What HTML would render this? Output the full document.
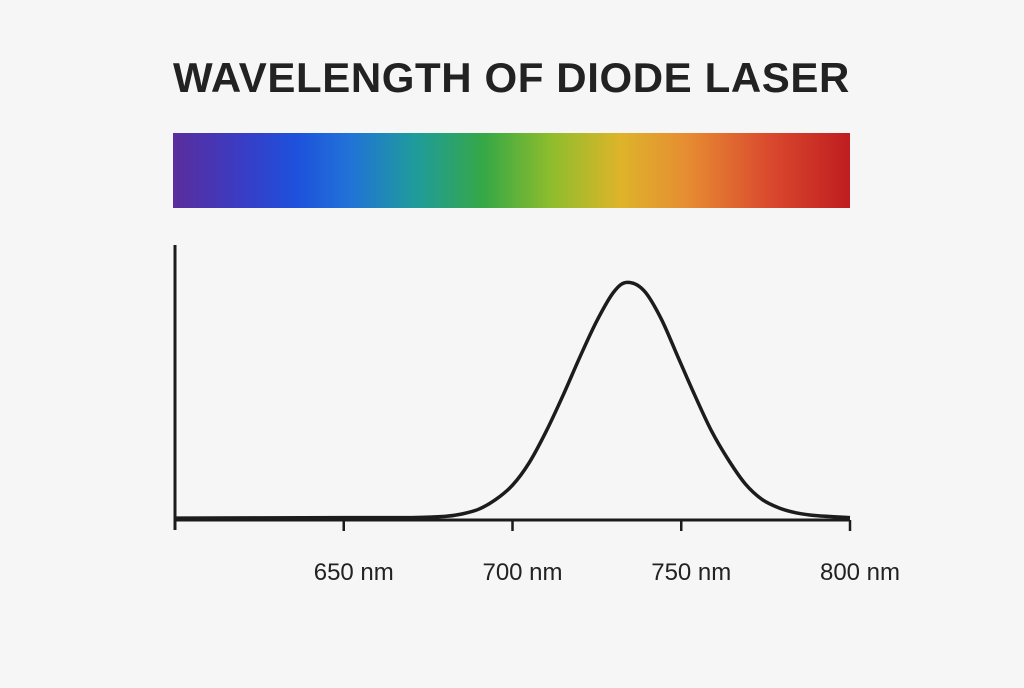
<!DOCTYPE html>
<html><head><meta charset="utf-8">
<style>
html,body{margin:0;padding:0;background:#f6f6f6;}
body{width:1024px;height:683px;overflow:hidden;font-family:"Liberation Sans",sans-serif;}
</style></head>
<body>
<svg width="1024" height="683" xmlns="http://www.w3.org/2000/svg">
<defs>
<linearGradient id="spec" x1="0" x2="1" y1="0" y2="0">
<stop offset="0" stop-color="#5a2d9c"/>
<stop offset="0.1" stop-color="#3a3cc4"/>
<stop offset="0.18" stop-color="#1e50dc"/>
<stop offset="0.26" stop-color="#2172d8"/>
<stop offset="0.36" stop-color="#1f9c9a"/>
<stop offset="0.46" stop-color="#36a845"/>
<stop offset="0.56" stop-color="#8fbd2c"/>
<stop offset="0.66" stop-color="#ddb42a"/>
<stop offset="0.76" stop-color="#e68c32"/>
<stop offset="0.88" stop-color="#da4a2e"/>
<stop offset="1" stop-color="#bf1d20"/>
</linearGradient>
</defs>
<text x="173" y="92" font-size="42" font-weight="bold" letter-spacing="0.6" fill="#222">WAVELENGTH OF DIODE LASER</text>
<rect x="173" y="133" width="677" height="75" fill="url(#spec)"/>
<g id="plot"></g>
</svg>
<script>
const wavelengths=[600,650,670,680,685,690,695,700,705,710,715,720,725,730,734,739,744,749,754,759,764,769,774,779,784,790,800];
const intensity=[0.8,1,1,1.5,2.5,4.5,8.5,14.5,24,37,52,68,83,95,99,95.5,84,68,52,37,25,15,8.5,5,3,1.8,1];
const tickValues=[650,700,750,800];
const tickLabels=["650 nm","700 nm","750 nm","800 nm"];
const NS="http://www.w3.org/2000/svg";
const xS=nm=>175+(nm-600)*3.375;
const yS=v=>520-v*2.4;
const g=document.getElementById('plot');
function mk(t,a){const e=document.createElementNS(NS,t);for(const k in a)e.setAttribute(k,a[k]);g.appendChild(e);return e;}
const ya=mk('line',{x1:175,y1:245,x2:175,y2:530,stroke:'#1c1c1c','stroke-width':3});


const xa=mk('line',{x1:174,y1:520,x2:850,y2:520,stroke:'#1c1c1c','stroke-width':3});


tickValues.forEach((v,i)=>{
  const x=xS(v);
  const t=mk('line',{x1:x,y1:520,x2:x,y2:531,stroke:'#1c1c1c','stroke-width':2.5});
  
  
  const l=mk('text',{x:x+10,y:580,'font-size':24,'text-anchor':'middle',fill:'#222'});
  l.textContent=tickLabels[i];
  
  
});
const pts=wavelengths.map((w,i)=>[xS(w),yS(intensity[i])]);
let d='M'+pts[0][0]+','+pts[0][1];
for(let i=0;i<pts.length-1;i++){
  const p0=pts[Math.max(0,i-1)],p1=pts[i],p2=pts[i+1],p3=pts[Math.min(pts.length-1,i+2)];
  const c1=[p1[0]+(p2[0]-p0[0])/6,p1[1]+(p2[1]-p0[1])/6];
  const c2=[p2[0]-(p3[0]-p1[0])/6,p2[1]-(p3[1]-p1[1])/6];
  d+=` C${c1[0]},${c1[1]} ${c2[0]},${c2[1]} ${p2[0]},${p2[1]}`;
}
const c=mk('path',{d:d,fill:'none',stroke:'#1c1c1c','stroke-width':3.5,'stroke-linejoin':'round'});


</script>
</body></html>
